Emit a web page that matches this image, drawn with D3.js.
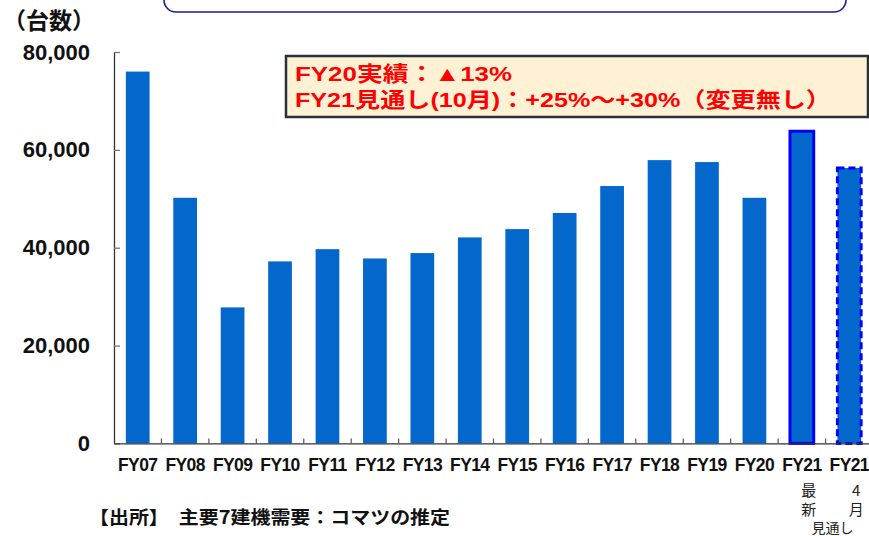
<!DOCTYPE html>
<html>
<head>
<meta charset="utf-8">
<script src="https://cdn.jsdelivr.net/npm/d3@7"></script>
<style>
  html, body { margin: 0; padding: 0; background: #fff; }
  svg { display: block; font-family: "Liberation Sans", Arial, "Noto Sans CJK JP", sans-serif; }
</style>
</head>
<body>
<svg id="chart" width="869" height="536"></svg>
<script>
// data
var categories = ['FY07', 'FY08', 'FY09', 'FY10', 'FY11', 'FY12', 'FY13', 'FY14',
                  'FY15', 'FY16', 'FY17', 'FY18', 'FY19', 'FY20', 'FY21', 'FY21'];
var units = [76000, 50200, 27800, 37200, 39700, 37800, 38900, 42100,
             43800, 47100, 52600, 57900, 57500, 50200, 63800, 56300];
var barKinds = ['actual', 'actual', 'actual', 'actual', 'actual', 'actual', 'actual', 'actual',
                'actual', 'actual', 'actual', 'actual', 'actual', 'actual', 'latest', 'april'];
var subLabels = { 14: ['最', '新'], 15: ['4', '月'] };
var yTicks = [0, 20000, 40000, 60000, 80000];
var noteLines = ['FY20実績：▲13%', 'FY21見通し(10月)：+25%～+30%（変更無し）'];
var noteWidths = [217, 536];
var unitLabel = '（台数）';
var outlookLabel = '見通し';
var sourceNote = '【出所】　主要7建機需要：コマツの推定';

var margin = { left: 114, right: -4, top: 52, bottom: 92.6 };
var W = 869, H = 536;
var svg = d3.select('#chart');

var x = d3.scaleBand()
    .domain(d3.range(categories.length))
    .range([margin.left, W - margin.right])
    .paddingInner(0.5)
    .paddingOuter(0.25);

var y = d3.scaleLinear()
    .domain([0, 80000])
    .range([H - margin.bottom, margin.top]);

// partial rounded frame at the very top
svg.append('rect')
    .attr('x', 164).attr('y', -30)
    .attr('width', 682).attr('height', 42)
    .attr('rx', 12).attr('ry', 12)
    .attr('fill', 'none')
    .attr('stroke', '#1c1c9c')
    .attr('stroke-width', 1.6);

svg.append('text')
    .attr('x', 3).attr('y', 29)
    .attr('font-size', 23).attr('font-weight', 'bold')
    .attr('fill', '#111')
    .text(unitLabel);

// bars
var bars = svg.append('g');
bars.selectAll('rect')
    .data(units)
    .enter()
    .append('rect')
    .attr('x', function (d, i) { return x(i); })
    .attr('y', function (d) { return y(d); })
    .attr('width', x.bandwidth())
    .attr('height', function (d) { return y(0) - y(d); })
    .attr('fill', '#0367cb')
    .attr('stroke', function (d, i) { return barKinds[i] === 'actual' ? 'none' : '#0000ff'; })
    .attr('stroke-width', 3)
    .attr('stroke-dasharray', function (d, i) { return barKinds[i] === 'april' ? '7,4' : null; });

// y axis, ticks pointing inward
var yAxis = svg.append('g')
    .attr('transform', 'translate(' + margin.left + ',0)')
    .call(d3.axisLeft(y).tickValues(yTicks).tickFormat(d3.format(',')).tickSize(-6).tickSizeOuter(0).tickPadding(24));
yAxis.select('.domain').attr('stroke', '#333').attr('stroke-width', 1.3);
yAxis.selectAll('.tick line').attr('stroke', '#777').attr('stroke-width', 1.3);
yAxis.selectAll('.tick text')
    .attr('font-size', 22).attr('font-weight', 'bold')
    .attr('font-family', '"Liberation Sans", Arial, sans-serif')
    .attr('fill', '#111');

// x axis
var xAxis = svg.append('g')
    .attr('transform', 'translate(0,' + y(0) + ')')
    .call(d3.axisBottom(x).tickSize(0).tickSizeOuter(0).tickPadding(15)
        .tickFormat(function (i) { return categories[i]; }));
xAxis.select('.domain').attr('stroke', '#333').attr('stroke-width', 1.3);
xAxis.selectAll('.tick text')
    .attr('font-size', 17.5).attr('font-weight', 'bold')
    .attr('letter-spacing', -0.6)
    .attr('font-family', '"Liberation Sans", Arial, sans-serif')
    .attr('fill', '#111');

// small inward ticks between the bars
xAxis.selectAll('line.sep')
    .data(d3.range(1, categories.length))
    .enter()
    .append('line')
    .attr('class', 'sep')
    .attr('x1', function (i) { return x(i) - x.step() * x.paddingInner() / 2; })
    .attr('x2', function (i) { return x(i) - x.step() * x.paddingInner() / 2; })
    .attr('y1', 0).attr('y2', -5)
    .attr('stroke', '#555').attr('stroke-width', 1.2);

// labels under the two FY21 bars
Object.keys(subLabels).forEach(function (k) {
    var cx = x(+k) + x.bandwidth() / 2 + 7;
    subLabels[k].forEach(function (s, j) {
        svg.append('text')
            .attr('x', cx).attr('y', 496 + j * 19)
            .attr('text-anchor', 'middle')
            .attr('font-size', 15)
            .attr('font-family', '"Noto Sans CJK JP", sans-serif')
            .attr('fill', '#222')
            .text(s);
    });
});
svg.append('text')
    .attr('x', (x(14) + x(15) + x.bandwidth()) / 2 + 7).attr('y', 533)
    .attr('text-anchor', 'middle')
    .attr('font-size', 14)
    .attr('font-family', '"Noto Sans CJK JP", sans-serif')
    .attr('fill', '#222')
    .text(outlookLabel);

// source line
svg.append('text')
    .attr('x', 89).attr('y', 524)
    .attr('font-size', 18).attr('font-weight', 'bold')
    .attr('font-family', '"Noto Sans CJK JP", sans-serif')
    .attr('textLength', 361).attr('lengthAdjust', 'spacingAndGlyphs')
    .attr('fill', '#111')
    .text(sourceNote);

// annotation box
svg.append('rect')
    .attr('x', 286).attr('y', 56)
    .attr('width', 582).attr('height', 61)
    .attr('fill', '#fff2d4')
    .attr('stroke', '#26313a')
    .attr('stroke-width', 2.5);

svg.selectAll('text.note')
    .data(noteLines)
    .enter()
    .append('text')
    .attr('class', 'note')
    .attr('x', 295)
    .attr('y', function (d, i) { return 81 + i * 26; })
    .attr('font-size', 21).attr('font-weight', 'bold')
    .attr('textLength', function (d, i) { return noteWidths[i]; })
    .attr('lengthAdjust', 'spacingAndGlyphs')
    .attr('fill', '#ff0000')
    .text(function (d) { return d; });
</script>
</body>
</html>
